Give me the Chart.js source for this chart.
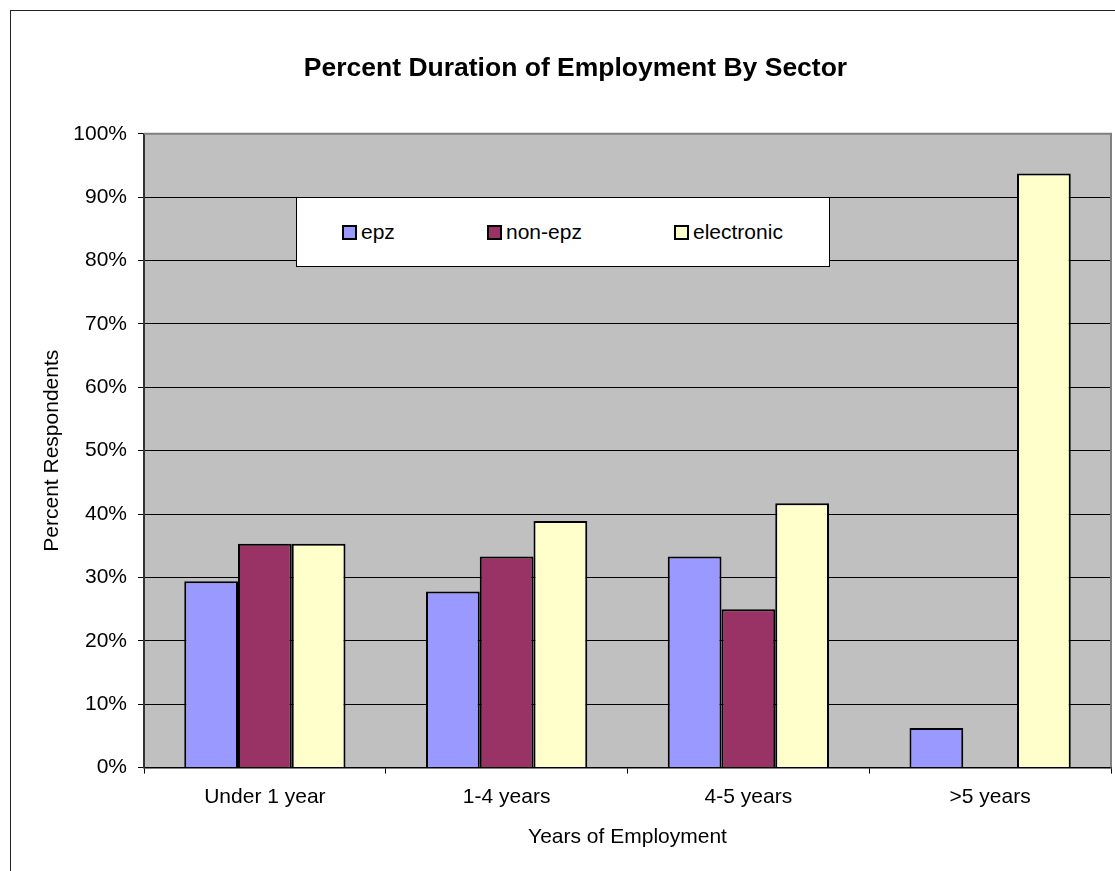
<!DOCTYPE html>
<html>
<head>
<meta charset="utf-8">
<script src="https://cdn.jsdelivr.net/npm/chart.js@4.4.1/dist/chart.umd.min.js"></script>
<style>
    html, body { margin: 0; padding: 0; background: #fff; overflow: hidden; }
    #wrap { position: relative; width: 1115px; height: 871px; }
    #frame { position: absolute; left: 10px; top: 10px; width: 1200px; height: 1000px; border: 1px solid #222; }
    #chart { position: absolute; left: 0; top: 0; }
    #legend {
        position: absolute; left: 296px; top: 197px; width: 532px; height: 68px;
        background: #fff; border: 1px solid #000;
        font-family: "Liberation Sans", Arial, sans-serif; font-size: 21px; color: #000;
    }
    .item { position: absolute; top: 0; height: 68px; display: flex; align-items: center; }
    .sw { width: 11px; height: 11px; border: 2px solid #000; margin-right: 4px; }
</style>
</head>
<body>
<div id="wrap">
    <div id="frame"></div>
    <canvas id="chart" width="1115" height="871"></canvas>
    <div id="legend"></div>
</div>
<script>
// --- Data ---
const categories = ['Under 1 year', '1-4 years', '4-5 years', '>5 years'];
const epz = [29.4, 27.8, 33.3, 6.25];
const nonEpz = [35.3, 33.3, 25.0, 0];
const electronic = [35.3, 38.9, 41.7, 93.75];
const yTicks = [0, 10, 20, 30, 40, 50, 60, 70, 80, 90, 100];

const FONT = '"Liberation Sans", Arial, sans-serif';
Chart.defaults.font.family = FONT;
Chart.defaults.color = '#000';

const series = [
    { label: 'epz', data: epz, color: '#9999FF', left: 45 },
    { label: 'non-epz', data: nonEpz, color: '#993366', left: 190 },
    { label: 'electronic', data: electronic, color: '#FFFFCC', left: 377 }
];

// plot area: grey fill underneath, grey frame on top/right
const plotArea = {
    id: 'plotArea',
    beforeDraw(chart) {
        const { ctx, chartArea: a } = chart;
        ctx.save();
        ctx.fillStyle = '#C0C0C0';
        ctx.fillRect(a.left, a.top, a.right - a.left, a.bottom - a.top);
        ctx.restore();
    },
    beforeDatasetsDraw(chart) {
        const { ctx, chartArea: a } = chart;
        ctx.save();
        ctx.strokeStyle = '#808080';
        ctx.lineWidth = 2;
        ctx.beginPath();
        ctx.moveTo(a.left, a.top);
        ctx.lineTo(a.right, a.top);
        ctx.lineTo(a.right, a.bottom);
        ctx.stroke();
        ctx.restore();
    }
};

new Chart(document.getElementById('chart'), {
    type: 'bar',
    data: {
        labels: categories,
        datasets: series.map(s => ({
            label: s.label,
            data: s.data,
            backgroundColor: s.color,
            borderColor: '#000',
            borderWidth: 2,
            borderSkipped: 'bottom',
            categoryPercentage: 0.667,
            barPercentage: 1.0
        }))
    },
    options: {
        responsive: false,
        animation: false,
        layout: { padding: { left: 40, right: 4, top: 0, bottom: 21 } },
        plugins: {
            legend: { display: false },
            tooltip: { enabled: false },
            title: {
                display: true,
                text: 'Percent Duration of Employment By Sector',
                font: { size: 26.5, weight: 'bold' },
                color: '#000',
                padding: { top: 53, bottom: 49 }
            }
        },
        scales: {
            x: {
                grid: { offset: true, drawOnChartArea: false, tickLength: 6, color: '#000' },
                border: { color: '#000', width: 1.5 },
                ticks: { font: { size: 21 }, padding: 11, color: '#000' },
                title: { display: true, text: 'Years of Employment', font: { size: 21 }, color: '#000', padding: { top: 4, bottom: 0 } }
            },
            y: {
                min: 0,
                max: 100,
                afterBuildTicks: scale => { scale.ticks = yTicks.map(v => ({ value: v })); },
                afterFit: scale => { scale.width = 104; },
                grid: {
                    tickLength: 6,
                    color: c => (c.tick && c.tick.value === 100) ? '#808080' : '#000',
                    tickColor: '#000',
                    lineWidth: 1
                },
                border: { color: '#333', width: 2 },
                ticks: { font: { size: 21 }, padding: 11, color: '#000', callback: v => v + '%' },
                title: { display: true, text: 'Percent Respondents', font: { size: 21 }, color: '#000', padding: 0 }
            }
        }
    },
    plugins: [plotArea]
});

// legend box inside the plot, as in the reference
const legend = document.getElementById('legend');
series.forEach(s => {
    const item = document.createElement('div');
    item.className = 'item';
    item.style.left = s.left + 'px';
    item.innerHTML = `<span class="sw" style="background:${s.color}"></span><span>${s.label}</span>`;
    legend.appendChild(item);
});
</script>
</body>
</html>
